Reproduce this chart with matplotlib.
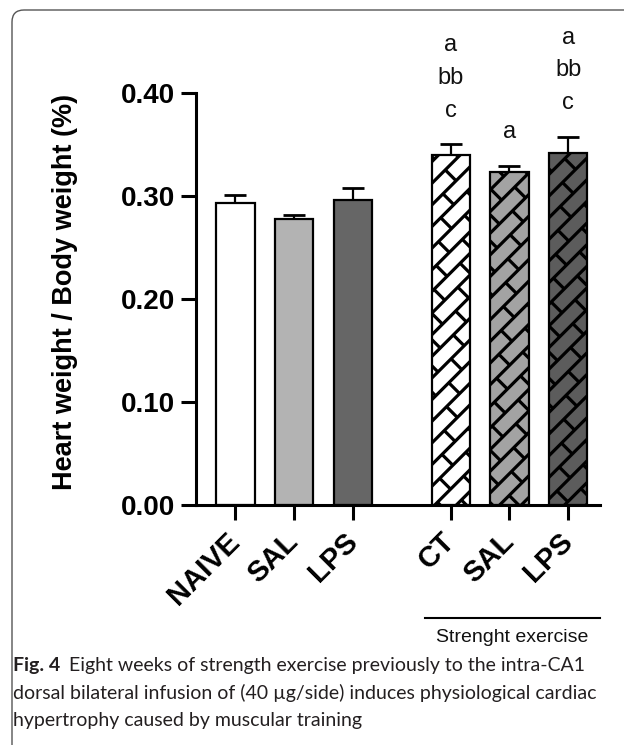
import numpy as np
import matplotlib
matplotlib.use("Agg")
import matplotlib.pyplot as plt
from matplotlib.collections import LineCollection
from matplotlib.lines import Line2D
from matplotlib.patches import FancyBboxPatch

plt.rcParams["font.family"] = ["Liberation Sans", "DejaVu Sans"]

# Heart weight / body weight ratio, mean and SEM per group
groups = ["NAIVE", "SAL", "LPS", "CT", "SAL", "LPS"]
means = [0.293, 0.278, 0.296, 0.340, 0.323, 0.342]
sems = [0.0075, 0.004, 0.012, 0.010, 0.0065, 0.0155]
fills = ["#ffffff", "#b3b3b3", "#666666", "#ffffff", "#a3a3a3", "#5c5c5c"]
hatched = [False, False, False, True, True, True]
letters = [[], [], [], ["c", "bb", "a"], ["a"], ["c", "bb", "a"]]

yticks = [0.0, 0.1, 0.2, 0.3, 0.4]
caption = ["Eight weeks of strength exercise previously to the intra-CA1",
           "dorsal bilateral infusion of (40 \u00b5g/side) induces physiological cardiac",
           "hypertrophy caused by muscular training"]


def brick_hatch(ax, bar, gap=15.3, length=37.0, lw=2.3):
    """Diagonal brick pattern drawn in pixel space, clipped to the bar."""
    r = np.sqrt(0.5)
    x0, y0 = bar.get_x(), bar.get_y()
    x1, y1 = x0 + bar.get_width(), y0 + bar.get_height()
    px = ax.transData.transform([(x0, y0), (x1, y0), (x0, y1), (x1, y1)])
    u = (px[:, 0] + px[:, 1]) * r
    v = (px[:, 1] - px[:, 0]) * r
    segs = []
    k0 = int(np.floor(v.min() / gap)) - 1
    k1 = int(np.ceil(v.max() / gap)) + 1
    for k in range(k0, k1 + 1):
        segs.append([(u.min() - length, k * gap), (u.max() + length, k * gap)])
        shift = (k % 2) * length / 2
        m0 = int(np.floor((u.min() - shift) / length)) - 1
        m1 = int(np.ceil((u.max() - shift) / length)) + 1
        for m in range(m0, m1 + 1):
            uu = shift + m * length
            segs.append([(uu, k * gap), (uu, (k + 1) * gap)])
    inv = ax.transData.inverted()
    data_segs = []
    for seg in segs:
        pts = np.array([((a - b) * r, (a + b) * r) for a, b in seg])
        data_segs.append(inv.transform(pts))
    lc = LineCollection(data_segs, colors="black", linewidths=lw,
                        zorder=2.1, capstyle="butt")
    ax.add_collection(lc, autolim=False)
    lc.set_clip_path(bar)


fig = plt.figure(figsize=(6.24, 7.45), dpi=100)
ax = fig.add_axes([196 / 624, 240 / 745, 404 / 624, 412 / 745])

x = np.r_[np.arange(3), np.arange(3) + 3.66]
width = 0.65

ax.set_xlim(-0.67, 6.2)
ax.set_ylim(0, 0.40)

ax.errorbar(x, means, yerr=[np.zeros(len(sems)), sems], fmt="none",
            ecolor="black", elinewidth=1.6, capsize=8, capthick=2, zorder=1)
bars = ax.bar(x, means, width, color=fills, edgecolor="none", zorder=2)
ax.bar(x, means, width, fill=False, edgecolor="black", linewidth=1.6, zorder=2.2)

for bar, h in zip(bars, hatched):
    if h:
        brick_hatch(ax, bar)

for xi, m, s, labs in zip(x, means, sems, letters):
    for i, lab in enumerate(labs):
        ax.annotate(lab, (xi, m + s), xytext=(0, 20 + i * 23.5),
                    textcoords="offset points", ha="center", va="baseline",
                    fontsize=17, color="#111111")

ax.spines[["top", "right"]].set_visible(False)
for side in ["left", "bottom"]:
    ax.spines[side].set_linewidth(2.2)
ax.tick_params(length=11, width=2.2, pad=4, labelsize=20)
ax.set_yticks(yticks, [f"{v:.2f}" for v in yticks], fontweight="bold")
ax.set_xticks(x, groups, rotation=45, ha="right", va="center",
              rotation_mode="anchor", fontweight="bold", fontsize=21)
ax.tick_params(axis="x", pad=12)

ax.set_ylabel("Heart weight / Body weight (%)", fontsize=19.5, fontweight="bold")
ax.yaxis.set_label_coords(-0.292, 0.517)

# bracket under the trained groups
fig.add_artist(Line2D([425 / 624, 600 / 624], [127 / 745, 127 / 745],
                      transform=fig.transFigure, color="black", lw=1.5))
fig.text(512 / 624, 107 / 745, "Strenght exercise", ha="center", va="center",
         fontsize=14, color="#111111")

# figure caption
cap_font = ["Lato", "DejaVu Sans"]
cap_size = 14
base = [74 / 745, 46 / 745, 19 / 745]
fig_lbl = fig.text(13 / 624, base[0], "Fig. 4", fontsize=cap_size, fontweight="bold",
                   family=cap_font, va="baseline", color="#231f20")
fig.canvas.draw()
bb = fig_lbl.get_window_extent(fig.canvas.get_renderer())
fig.text((bb.x1 + 9) / fig.bbox.width, base[0], caption[0], fontsize=cap_size,
         family=cap_font, va="baseline", color="#231f20")
for line, y in zip(caption[1:], base[1:]):
    fig.text(13 / 624, y, line, fontsize=cap_size, family=cap_font, va="baseline",
             color="#231f20")

frame = FancyBboxPatch((0.12, -0.4), 6.6, 7.75, boxstyle="round,pad=0,rounding_size=0.12",
                       transform=fig.dpi_scale_trans, fill=False,
                       edgecolor="#555555", lw=1.0, clip_on=False)
fig.add_artist(frame)

fig.savefig("out.png", dpi=100)
